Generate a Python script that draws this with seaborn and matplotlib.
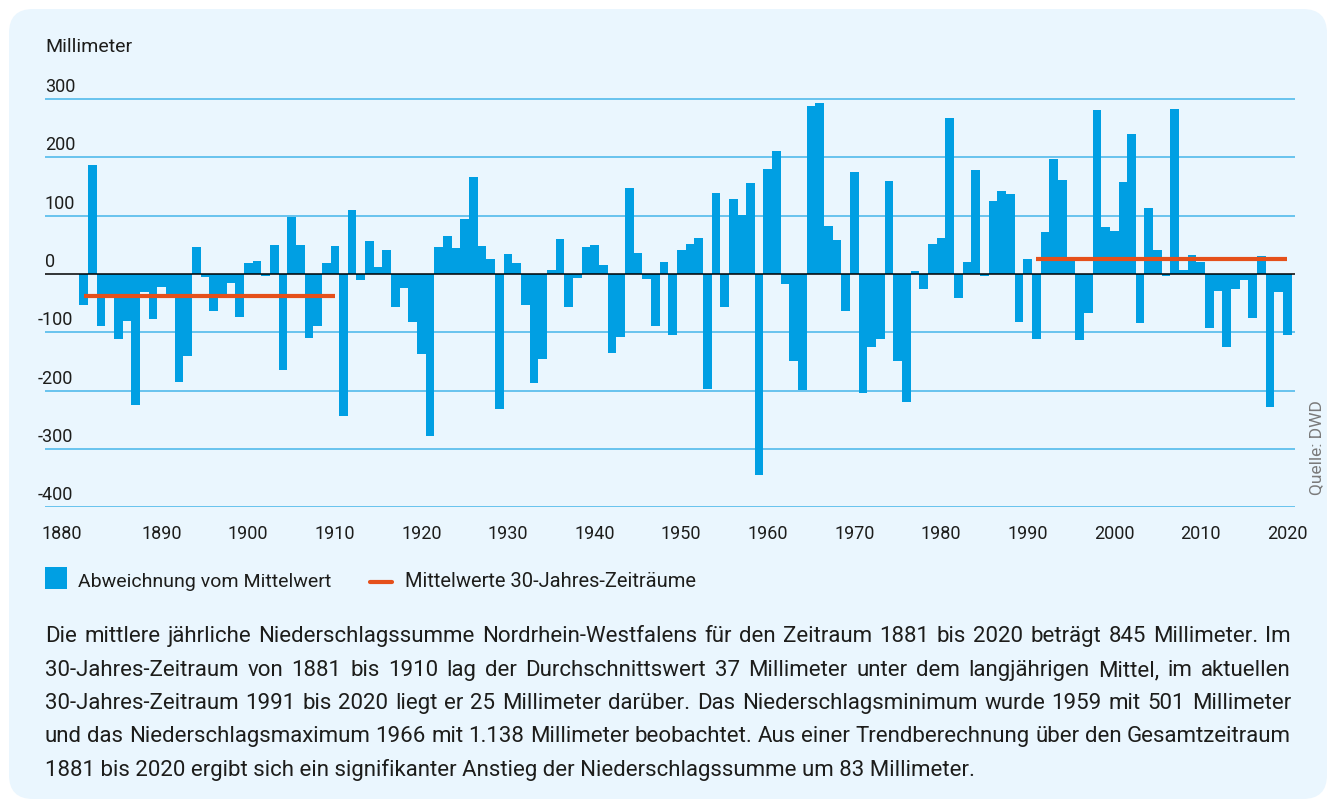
import numpy as np
import pandas as pd
import matplotlib.pyplot as plt
import matplotlib.transforms as mtrans
from matplotlib.patches import FancyBboxPatch, Rectangle
from matplotlib.lines import Line2D
import seaborn as sns

# Abweichung vom Mittelwert (845 mm), Nordrhein-Westfalen
years = list(range(1881, 2021))
deviation = [
    -53, 187, -90, -42, -111, -80, -224, -31, -77, -22,      # 1881-1890
    -42, -186, -140, 46, -6, -64, -39, -16, -74, 19,         # 1891-1900
    22, -3, 50, -164, 98, 50, -109, -89, 19, 48,             # 1901-1910
    -243, 110, -11, 57, 12, 41, -56, -24, -82, -138,         # 1911-1920
    -277, 46, 65, 45, 94, 166, 48, 26, -231, 34,             # 1921-1930
    19, -53, -187, -146, 7, 60, -57, -7, 46, 50,             # 1931-1940
    15, -135, -108, 147, 36, -9, -89, 21, -105, 41,          # 1941-1950
    51, 62, -197, 139, -57, 129, 101, 156, -344, 180,        # 1951-1960
    211, -17, -149, -199, 288, 293, 82, 58, -63, 175,        # 1961-1970
    -204, -125, -111, 159, -149, -219, 5, -26, 51, 62,       # 1971-1980
    267, -41, 21, 178, -3, 125, 142, 137, -82, 26,           # 1981-1990
    -111, 72, 197, 161, 29, -113, -67, 281, 81, 74,          # 1991-2000
    158, 240, -84, 113, 41, -3, 283, 7, 32, 20,              # 2001-2010
    -93, -29, -125, -26, -10, -75, 31, -228, -31, -105,      # 2011-2020
]

# 30-Jahres-Mittelwerte
period_start = [1881, 1991]
period_end = [1910, 2020]
period_mean = [-37, 25]

y_ticks = [300, 200, 100, 0, -100, -200, -300, -400]
x_ticks = list(range(1880, 2021, 10))

paragraph = [
    "Die mittlere jährliche Niederschlagssumme Nordrhein-Westfalens für den Zeitraum 1881 bis 2020 beträgt 845 Millimeter. Im",
    "30-Jahres-Zeitraum von 1881 bis 1910 lag der Durchschnittswert 37 Millimeter unter dem langjährigen Mittel, im aktuellen",
    "30-Jahres-Zeitraum 1991 bis 2020 liegt er 25 Millimeter darüber. Das Niederschlagsminimum wurde 1959 mit 501 Millimeter",
    "und das Niederschlagsmaximum 1966 mit 1.138 Millimeter beobachtet. Aus einer Trendberechnung über den Gesamtzeitraum",
    "1881 bis 2020 ergibt sich ein signifikanter Anstieg der Niederschlagssumme um 83 Millimeter.",
]

BLUE = '#009FE3'
ORANGE = '#E5501B'
GRID = '#45B5EA'
PANEL = '#EAF6FE'
TEXT = '#1d1d1b'

sns.set_style('white')
plt.rcParams['font.family'] = ['Roboto', 'DejaVu Sans']

W, H = 1336, 803
fig = plt.figure(figsize=(W / 100, H / 100), dpi=100)
fig.patch.set_facecolor('white')


def fx(x):
    return x / W


def fy(y):
    return 1 - y / H


# light blue panel with rounded corners (pixel coordinates), behind everything
panel = FancyBboxPatch((9, 3), W - 18, H - 13,
                       boxstyle='round,pad=0,rounding_size=24',
                       transform=mtrans.IdentityTransform(),
                       facecolor=PANEL, edgecolor='none', zorder=-10)
fig.patches.append(panel)

# plot area: 0 at y=275px, 100 mm = 58.33px
y_top, y_bottom = 320, -400
px_top = 275 - y_top / 100 * 58.33
px_bottom = 275 - y_bottom / 100 * 58.33
ax = fig.add_axes([fx(45), fy(px_bottom), (1295 - 45) / W, (px_bottom - px_top) / H])
ax.set_facecolor('none')
ax.set_zorder(1)

df = pd.DataFrame({'Jahr': years, 'Abweichung': deviation})
sns.barplot(data=df, x='Jahr', y='Abweichung', native_scale=True, width=1.0,
            color=BLUE, saturation=1, linewidth=0, errorbar=None, ax=ax, zorder=2)

for s, e, m in zip(period_start, period_end, period_mean):
    ax.plot([s, e], [m, m], color=ORANGE, lw=3.0, solid_capstyle='butt', zorder=5)

ax.axhline(0, color='black', lw=1.1, zorder=4)
for v in y_ticks:
    if v != 0:
        ax.axhline(v, color=GRID, lw=1.1, zorder=1)

ax.set_xlim(1876.53, 2020.88)
ax.set_ylim(y_bottom, y_top)
for sp in ax.spines.values():
    sp.set_visible(False)
ax.set_xlabel('')
ax.set_ylabel('')
ax.set_yticks([])
ax.set_xticks(x_ticks)
ax.set_xticklabels([str(t) for t in x_ticks], fontsize=13, color=TEXT)
ax.tick_params(axis='x', length=0, pad=12)
# first label sits a bit left of its year
shift = mtrans.ScaledTranslation(-13 / 100, 0, fig.dpi_scale_trans)
lbl0 = ax.get_xticklabels()[0]
lbl0.set_transform(lbl0.get_transform() + shift)

# y labels above their gridlines
ylab_tr = mtrans.blended_transform_factory(ax.transAxes, ax.transData) + \
    mtrans.ScaledTranslation(0, 4 / 100, fig.dpi_scale_trans)
for v in y_ticks:
    xoff = -0.0055 if v < 0 else 0.0
    ax.text(xoff, v, str(v), transform=ylab_tr, ha='left', va='bottom',
            fontsize=13, color=TEXT)

fig.text(fx(45), fy(47), 'Millimeter', ha='left', va='center', fontsize=14, color=TEXT)
fig.text(fx(1317), fy(448), 'Quelle: DWD', rotation=90, ha='center', va='center',
         fontsize=12.5, color='#7a7a7a')

# legend
fig.patches.append(Rectangle((fx(45), fy(590)), 22 / W, 22 / H, transform=fig.transFigure,
                             facecolor=BLUE, edgecolor='none'))
fig.text(fx(78), fy(582), 'Abweichnung vom Mittelwert', ha='left', va='center',
         fontsize=14, color=TEXT)
fig.lines.append(Line2D([fx(370), fx(392)], [fy(583), fy(583)], transform=fig.transFigure,
                        color=ORANGE, lw=3.0))
fig.text(fx(405), fy(582), 'Mittelwerte 30-Jahres-Zeiträume', ha='left', va='center',
         fontsize=14.5, color=TEXT)

# justified paragraph, last line left aligned
renderer = fig.canvas.get_renderer()
left, right = 45, 1291
line_y = [637, 670.5, 704, 737, 770]
for i, line in enumerate(paragraph):
    if i == len(paragraph) - 1:
        fig.text(fx(left), fy(line_y[i]), line, ha='left', va='center',
                 fontsize=16, color=TEXT)
        continue
    words = line.split(' ')
    texts = [fig.text(0, fy(line_y[i]), w, ha='left', va='center', fontsize=16, color=TEXT)
             for w in words]
    widths = [t.get_window_extent(renderer).width for t in texts]
    gap = (right - left - sum(widths)) / (len(words) - 1)
    x = left
    for t, w in zip(texts, widths):
        t.set_x(fx(x))
        x += w + gap

fig.savefig('out.png', dpi=100)
